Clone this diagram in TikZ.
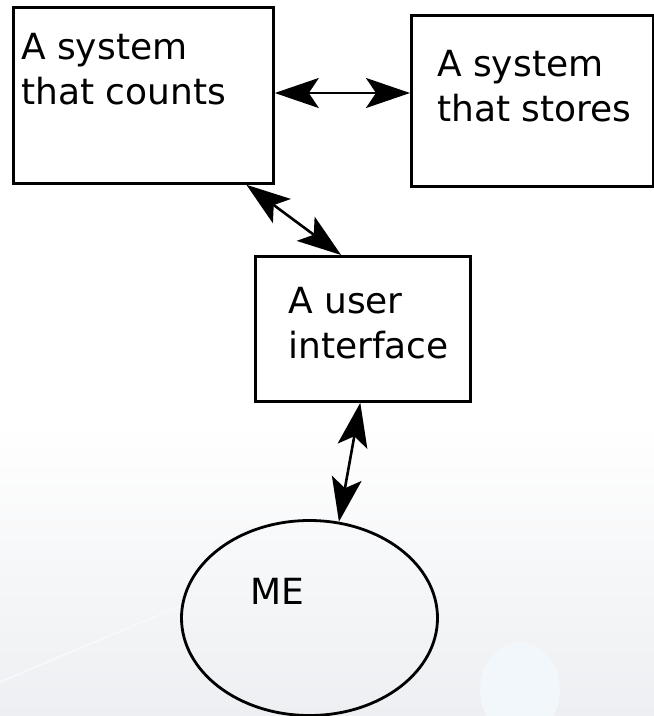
\documentclass[tikz,border=0pt]{standalone}
\usepackage{fontspec}
\setmainfont{DejaVu Sans}
\usetikzlibrary{arrows.meta,shapes.geometric,calc}
\definecolor{bgbottom}{HTML}{EDEFF2}
\definecolor{glow}{HTML}{F1F7FA}
\definecolor{streak}{HTML}{F4F9FB}
\tikzset{
  sysbox/.style={draw=black, line width=2.8pt, fill=white, rectangle, inner sep=0pt, anchor=north west},
  lbl/.style={anchor=base west, inner sep=0pt, align=left, font=\fontsize{36}{44.5}\selectfont},
  link/.style={line width=2.6pt, {Stealth[length=44pt,width=30pt,inset=10pt]}-{Stealth[length=44pt,width=30pt,inset=10pt]}},
}
\begin{document}
\begin{tikzpicture}[x=1pt,y=-1pt]
\useasboundingbox (0,0) rectangle (654,716);
\fill[white] (0,0) rectangle (654,716);
\shade[top color=white, bottom color=bgbottom] (0,420) rectangle (654,716);
\draw[streak, line width=2pt] (0,682) -- (180,606);
\fill[glow] (520,690) ellipse (40 and 48);

\node[sysbox, minimum width=260pt, minimum height=176pt] (b1) at (12,6) {};
\node[sysbox, minimum width=242pt, minimum height=171pt] (b2) at (410,14) {};
\node[sysbox, minimum width=215pt, minimum height=145pt] (b3) at (254,255) {};
\node[draw=black, line width=2.8pt, shape=ellipse, minimum width=256pt, minimum height=195pt, inner sep=0pt] (me) at (309.5,618) {};

\node[lbl] (t1) at (21,104) {A system\\that counts};
\node[lbl] (t2) at (437,121) {A system\\that stores};
\node[lbl] (t3) at (288,358) {A user\\interface};
\node[lbl] (t4) at (250,604) {ME};

\coordinate (c1) at (0,93);
\draw[link] (b1.east |- c1) -- (b2.west |- c1);
\draw[link] ($(b1.south west)!0.892!(b1.south east)$) -- ($(b3.north west)!0.4!(b3.north east)$);
\draw[link] ($(b3.south west)!0.488!(b3.south east)$) -- (me.73.5);
\end{tikzpicture}
\end{document}
